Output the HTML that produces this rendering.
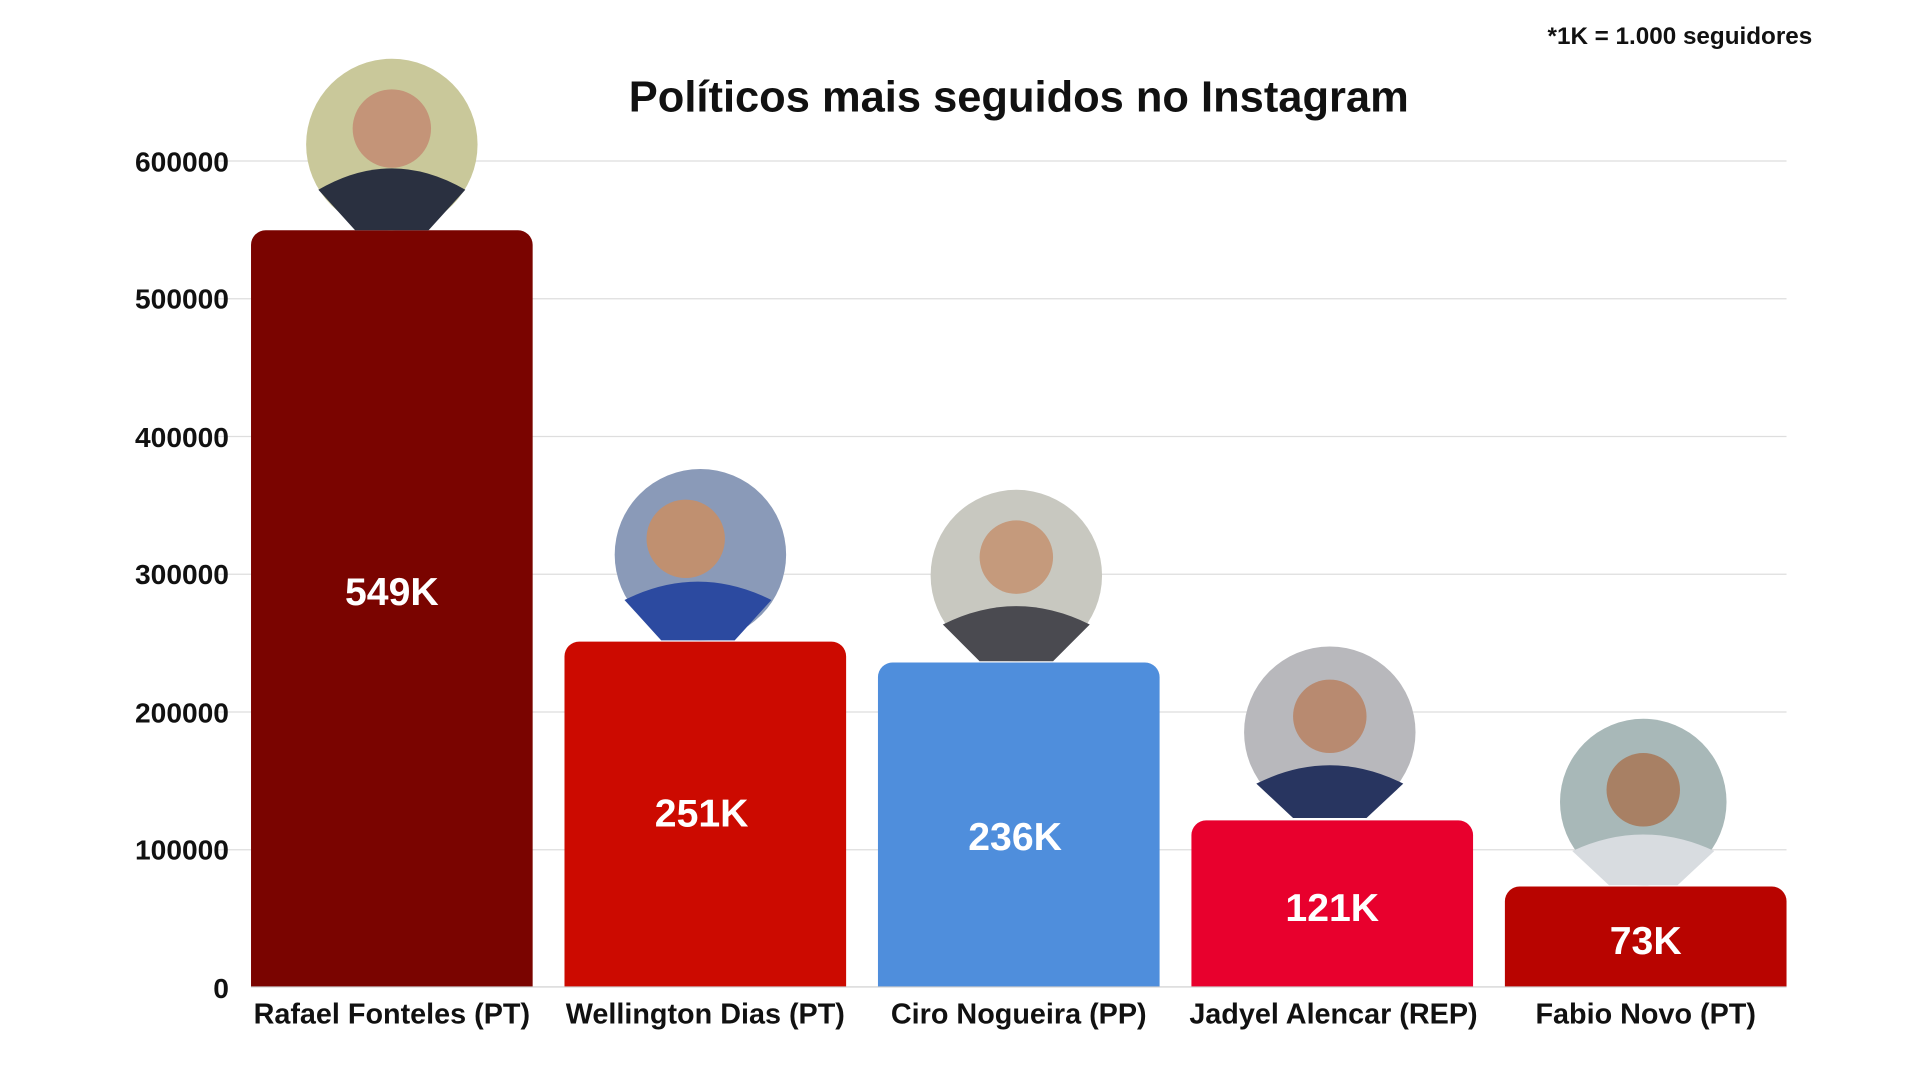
<!DOCTYPE html>
<html><head><meta charset="utf-8"><style>html,body{margin:0;padding:0;background:#fff}svg{display:block}</style></head><body>
<svg width="1920" height="1080" viewBox="0 0 1568 882" preserveAspectRatio="none" xmlns="http://www.w3.org/2000/svg" font-family="Liberation Sans, sans-serif" font-weight="bold">
<rect width="1568" height="882" fill="#fff"/>
<g stroke="#dedede" stroke-width="1">
<line x1="178" x2="1459" y1="131.5" y2="131.5"/>
<line x1="178" x2="1459" y1="244" y2="244"/>
<line x1="178" x2="1459" y1="356.5" y2="356.5"/>
<line x1="178" x2="1459" y1="469" y2="469"/>
<line x1="178" x2="1459" y1="581.5" y2="581.5"/>
<line x1="178" x2="1459" y1="694" y2="694"/>
</g>
<g font-size="23" text-anchor="end" fill="#111">
<text x="187" y="140">600000</text><text x="187" y="252">500000</text><text x="187" y="365">400000</text>
<text x="187" y="477">300000</text><text x="187" y="590">200000</text><text x="187" y="702">100000</text><text x="187" y="815">0</text>
</g>
<path d="M205,806 V200 a12,12 0 0 1 12,-12 H423 a12,12 0 0 1 12,12 V806Z" fill="#7a0400"/>
<path d="M461,806 V536 a12,12 0 0 1 12,-12 H679 a12,12 0 0 1 12,12 V806Z" fill="#cc0a00"/>
<path d="M717,806 V553 a12,12 0 0 1 12,-12 H935 a12,12 0 0 1 12,12 V806Z" fill="#4f8edc"/>
<path d="M973,806 V682 a12,12 0 0 1 12,-12 H1191 a12,12 0 0 1 12,12 V806Z" fill="#e8002d"/>
<path d="M1229,806 V736 a12,12 0 0 1 12,-12 H1447 a12,12 0 0 1 12,12 V806Z" fill="#b80400"/>
<line x1="205" x2="1459" y1="806" y2="806" stroke="#ccc"/>
<g font-size="32" fill="#fff" text-anchor="middle">
<text x="320" y="494">549K</text><text x="573" y="675">251K</text><text x="829" y="694">236K</text>
<text x="1088" y="752">121K</text><text x="1344" y="779">73K</text>
</g>
<g font-size="23.5" fill="#111" text-anchor="middle">
<text x="320" y="836">Rafael Fonteles (PT)</text><text x="576" y="836">Wellington Dias (PT)</text>
<text x="832" y="836">Ciro Nogueira (PP)</text><text x="1089" y="836">Jadyel Alencar (REP)</text>
<text x="1344" y="836">Fabio Novo (PT)</text>
</g>
<text x="832" y="91" font-size="35.5" text-anchor="middle" fill="#111">Políticos mais seguidos no Instagram</text>
<text x="1480" y="36" font-size="19.8" text-anchor="end" fill="#111">*1K = 1.000 seguidores</text>
<g>
<circle cx="320" cy="118" r="70" fill="#c9c89a"/><circle cx="320" cy="105" r="32" fill="#c49478"/><path d="M260,155 Q320,120 380,155 L350,188 H290Z" fill="#2a3040"/>
<circle cx="572" cy="453" r="70" fill="#8a9ab8"/><circle cx="560" cy="440" r="32" fill="#c09070"/><path d="M510,490 Q570,460 630,490 L600,523 H540Z" fill="#2c4aa0"/>
<circle cx="830" cy="470" r="70" fill="#c8c8c0"/><circle cx="830" cy="455" r="30" fill="#c59a7c"/><path d="M770,510 Q830,480 890,510 L860,540 H800Z" fill="#4a4a50"/>
<circle cx="1086" cy="598" r="70" fill="#b8b8bc"/><circle cx="1086" cy="585" r="30" fill="#b88a70"/><path d="M1026,640 Q1086,610 1146,640 L1116,668 H1056Z" fill="#283560"/>
<circle cx="1342" cy="655" r="68" fill="#a8b8b8"/><circle cx="1342" cy="645" r="30" fill="#a88064"/><path d="M1284,695 Q1342,668 1400,695 L1370,723 H1314Z" fill="#d8dce0"/>
</g>
</svg>
</body></html>
